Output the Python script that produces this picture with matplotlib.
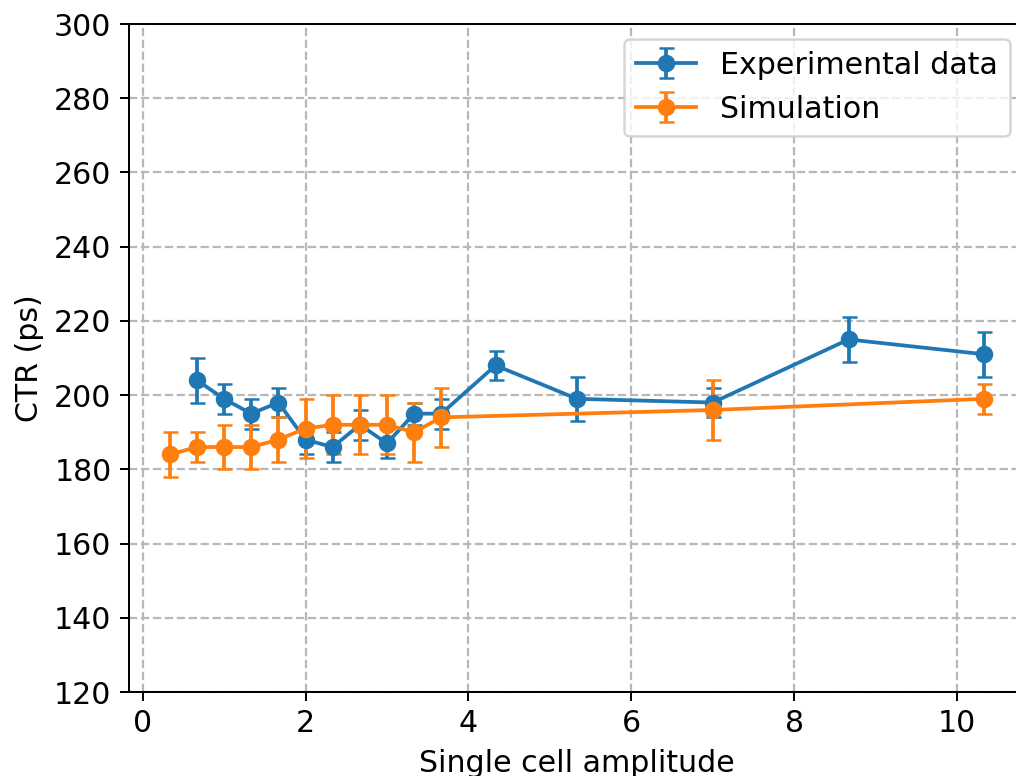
import matplotlib
matplotlib.use("Agg")
import matplotlib.pyplot as plt

# Experimental CTR measurements vs. single cell amplitude
exp_amp = [0.667, 1.0, 1.333, 1.667, 2.0, 2.333, 2.667, 3.0, 3.333, 3.667,
           4.333, 5.333, 7.0, 8.667, 10.333]
exp_ctr = [204, 199, 195, 198, 188, 186, 192, 187, 195, 195,
           208, 199, 198, 215, 211]
exp_err = [6, 4, 4, 4, 4, 4, 4, 4, 3, 4,
           4, 6, 4, 6, 6]

# Simulated CTR
sim_amp = [0.333, 0.667, 1.0, 1.333, 1.667, 2.0, 2.333, 2.667, 3.0, 3.333,
           3.667, 7.0, 10.333]
sim_ctr = [184, 186, 186, 186, 188, 191, 192, 192, 192, 190,
           194, 196, 199]
sim_err = [6, 4, 6, 6, 6, 8, 8, 8, 8, 8,
           8, 8, 4]

plt.rcParams['font.size'] = 12
dpi = 180
W, H = 1016, 776
fig = plt.figure(figsize=(W / dpi, H / dpi), dpi=dpi)
ax = fig.add_axes([129 / W, 84 / H, (1025 - 129) / W, (692 - 24) / H])

ax.errorbar(exp_amp, exp_ctr, yerr=exp_err, fmt='o-', capsize=3,
            label='Experimental data')
ax.errorbar(sim_amp, sim_ctr, yerr=sim_err, fmt='o-', capsize=3,
            label='Simulation')

ax.set_ylim(120, 300)
ax.set_xlabel('Single cell amplitude')
ax.set_ylabel('CTR (ps)')
ax.grid(True, linestyle='--', color='#b8b8b8', linewidth=0.9)
ax.legend(loc='upper right')

fig.savefig('out.png', dpi=dpi)
